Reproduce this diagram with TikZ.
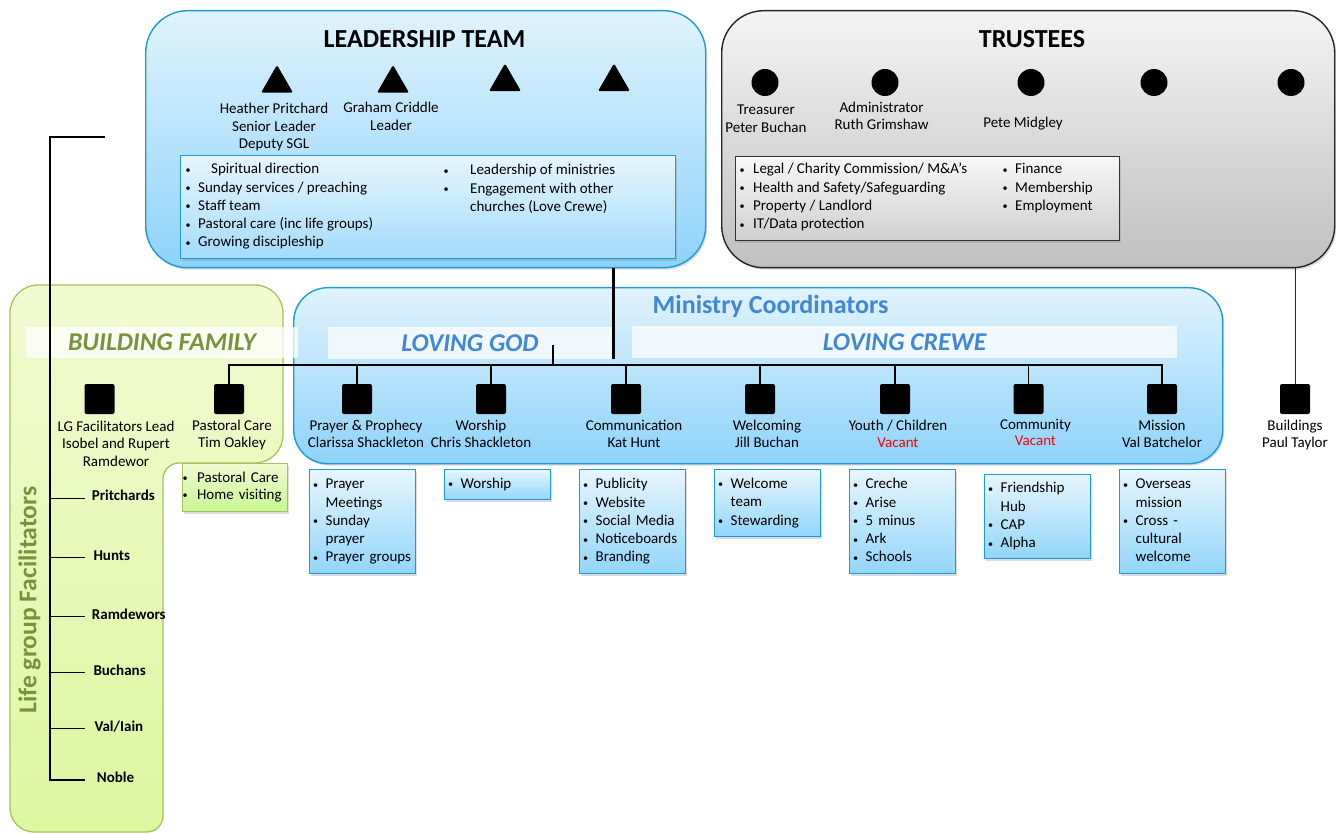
\documentclass[tikz,border=0pt]{standalone}
\usepackage{fontspec}
\usepackage{graphicx}
\setmainfont{Carlito}
\usetikzlibrary{shapes.geometric,shadows}
\definecolor{ltbd}{HTML}{1E9BD7}
\definecolor{blA}{HTML}{E0F3FD}
\definecolor{blB}{HTML}{8ED3FA}
\definecolor{sbA}{HTML}{E6F6FE}
\definecolor{sbB}{HTML}{92D5F9}
\definecolor{gyA}{HTML}{F4F4F4}
\definecolor{gyB}{HTML}{C0C0C0}
\definecolor{glA}{HTML}{F7F7F7}
\definecolor{glB}{HTML}{CFCFCF}
\definecolor{grA}{HTML}{F2FAD2}
\definecolor{grB}{HTML}{DDF7A0}
\definecolor{grbd}{HTML}{A4C35E}
\definecolor{grtx}{HTML}{77933C}
\definecolor{bltx}{HTML}{4287D6}
\definecolor{vac}{HTML}{FF0000}
\newcommand\ctab[1]{\begin{tabular}[t]{@{}c@{}}#1\end{tabular}}
\newcommand\ltab[1]{\begin{tabular}[t]{@{}l@{}}#1\end{tabular}}
\newcommand\bi[1][10pt]{\makebox[0pt][c]{\raisebox{0.6pt}{\scalebox{0.68}{\textbullet}}}\hspace*{#1}}
\newcommand\ci[1][10pt]{\hspace*{#1}}
\begin{document}
\begin{tikzpicture}[x=1pt,y=-1pt,
  shad/.style={drop shadow={opacity=0.28,shadow xshift=1.5pt,shadow yshift=-2pt}},
  bigblue/.style={draw=ltbd,line width=1.4pt,top color=blA,bottom color=blB,anchor=north west,inner sep=0pt,shad},
  graybox/.style={draw=black!85,line width=1.4pt,top color=gyA,bottom color=gyB,anchor=north west,inner sep=0pt,shad},
  listblue/.style={draw=ltbd,line width=1.3pt,top color=sbA,bottom color=sbB!85,anchor=north west,inner sep=0pt,shad},
  listgray/.style={draw=black!80,line width=1.2pt,top color=glA,bottom color=glB,anchor=north west,inner sep=0pt,shad},
  sub/.style={draw=ltbd,line width=1.3pt,top color=sbA,bottom color=sbB,anchor=north west,
    inner xsep=6pt,inner ysep=0pt,text width=94pt,minimum width=106pt,align=left,
    font=\fontsize{15}{18.3}\selectfont,shad},
  gsub/.style={draw=grbd,line width=1.3pt,top color=grA,bottom color=grB!90!green,anchor=north west,
    inner xsep=2.5pt,inner ysep=0pt,text width=100pt,minimum width=105pt,minimum height=48pt,align=left,
    font=\fontsize{15}{17}\selectfont,shad},
  txt/.style={inner sep=0pt,font=\fontsize{15}{18.3}\selectfont},
  lab/.style={inner sep=0pt,anchor=base,font=\fontsize{15}{17.7}\selectfont},
  labm/.style={inner sep=0pt,anchor=base,font=\fontsize{15}{16.8}\selectfont},
  ttl/.style={inner sep=0pt,anchor=base,font=\fontsize{26}{30}\selectfont\bfseries},
  strip/.style={fill=white,fill opacity=0.75,text opacity=1,inner sep=0pt,
    font=\fontsize{25.6}{30}\selectfont\bfseries\itshape},
  lgname/.style={inner sep=0pt,anchor=base west,font=\fontsize{15}{18}\selectfont\bfseries},
  tri/.style={regular polygon,regular polygon sides=3,fill=black,minimum size=37pt,inner sep=0pt,rounded corners=1.5pt},
  dot/.style={circle,fill=black,minimum size=27pt,inner sep=0pt},
  sq/.style={rectangle,fill=black,minimum size=30pt,inner sep=0pt,rounded corners=2pt},
  conn/.style={draw=black,line width=1.4pt},
  tick/.style={draw=black,line width=1.3pt}]
\useasboundingbox (0,0) rectangle (1336,834);

% ---------- Building family / life group green panel
\path[draw=grbd,line width=1.3pt,top color=grA,bottom color=grB,rounded corners=28pt]
  (10,560) -- (10,285) -- (283,285) -- (283,463) [rounded corners=16pt] -- (163,463)
  -- (163,832) [rounded corners=24pt] -- (10,832) -- cycle;

% ---------- big boxes
\node[bigblue,rounded corners=42pt,minimum width=560pt,minimum height=257pt] (lt) at (145,10) {};
\node[graybox,rounded corners=42pt,minimum width=613pt,minimum height=257pt] (tr) at (721,10) {};
\node[bigblue,rounded corners=34pt,minimum width=929pt,minimum height=176pt] (mc) at (293,287) {};

% ---------- Leadership team
\node[ttl] (ltt) at (424.5,47.5) {LEADERSHIP TEAM};
\node[tri] (t1) at (277,83.5) {};
\node[tri] (t2) at (393,83.5) {};
\node[tri] (t3) at (505,82) {};
\node[tri] (t4) at (614,82) {};
\node[lab] (hp) at (274,113.5) {\ctab{Heather Pritchard\\Senior Leader\\Deputy SGL}};
\node[lab] (gc) at (391,112.8) {\ctab{Graham Criddle\\Leader}};
\node[listblue,minimum width=495pt,minimum height=103pt] (ltl) at (180,155) {};
\node[txt,anchor=base west] (ltla) at (188,173.8)
  {\ltab{\bi[23pt]Spiritual direction\\\bi Sunday services / preaching\\\bi Staff team\\\bi Pastoral care (inc life groups)\\\bi Growing discipleship}};
\node[txt,anchor=base west] (ltlb) at (446,175)
  {\ltab{\bi[24pt]Leadership of ministries\\\bi[24pt]Engagement with other\\\ci[24pt]churches (Love Crewe)}};

% ---------- Trustees
\node[ttl] (trt) at (1032,47.5) {TRUSTEES};
\node[dot] (c1) at (765,82.5) {};
\node[dot] (c2) at (885,82.5) {};
\node[dot] (c3) at (1031,82.5) {};
\node[dot] (c4) at (1154,82.5) {};
\node[dot] (c5) at (1291,82.5) {};
\node[lab] (pb) at (766,114.5) {\ctab{Treasurer\\Peter Buchan}};
\node[lab] (rg) at (881.5,112.2) {\ctab{Administrator\\Ruth Grimshaw}};
\node[lab] (pm) at (1023,127.2) {Pete Midgley};
\node[listgray,minimum width=384pt,minimum height=84pt] (trl) at (735,156) {};
\node[txt,anchor=base west] (trla) at (742,173.8)
  {\ltab{\bi[11pt]Legal / Charity Commission/ M\&A’s\\\bi[11pt]Health and Safety/Safeguarding\\\bi[11pt]Property / Landlord\\\bi[11pt]IT/Data protection}};
\node[txt,anchor=base west] (trlb) at (1005,173.8)
  {\ltab{\bi Finance\\\bi Membership\\\bi Employment}};

% ---------- Ministry coordinators headings
\node[inner sep=0pt,anchor=base,text=bltx,font=\fontsize{26}{30}\selectfont\bfseries] (mct) at (770.5,314) {Ministry Coordinators};
\node[strip,text=grtx,minimum width=272pt,minimum height=31pt] (bf) at (162,342.3) {BUILDING FAMILY};
\node[strip,text=bltx,minimum width=284pt,minimum height=32pt] (lg) at (470,343) {LOVING GOD};
\node[strip,text=bltx,minimum width=545pt,minimum height=31pt] (lc) at (904.5,342) {LOVING CREWE};

% ---------- squares
\node[sq] (b1) at (99.5,399) {};
\node[sq] (b2) at (229,399) {};
\node[sq] (m1) at (357,399) {};
\node[sq] (m2) at (491,399) {};
\node[sq] (m3) at (626,399) {};
\node[sq] (m4) at (760,399) {};
\node[sq] (m5) at (895,399) {};
\node[sq] (m6) at (1028.5,399) {};
\node[sq] (m7) at (1162,399) {};
\node[sq] (bd) at (1295,399) {};

% ---------- square labels
\node[lab] (b1l) at (116,431) {\ctab{LG Facilitators Lead\\Isobel and Rupert\\Ramdewor}};
\node[labm] (b2l) at (232,430.2) {\ctab{Pastoral Care\\Tim Oakley}};
\node[labm] (m1l) at (366,430.2) {\ctab{Prayer \& Prophecy\\Clarissa Shackleton}};
\node[labm] (m2l) at (481,430.2) {\ctab{Worship\\Chris Shackleton}};
\node[labm] (m3l) at (634,430.2) {\ctab{Communication\\Kat Hunt}};
\node[labm] (m4l) at (767,430.2) {\ctab{Welcoming\\Jill Buchan}};
\node[labm] (m5l) at (898,430.2) {\ctab{Youth / Children\\\textcolor{vac}{Vacant}}};
\node[labm] (m6l) at (1035.5,429) {\ctab{Community\\\textcolor{vac}{Vacant}}};
\node[labm] (m7l) at (1162,430.2) {\ctab{Mission\\Val Batchelor}};
\node[labm] (bdl) at (1295,430.2) {\ctab{Buildings\\Paul Taylor}};

% ---------- connectors
\coordinate (bus) at (0,365);
\coordinate (ltj) at (613,359);
\coordinate (lgt) at (553,345);
\draw[line width=3pt] (lt.south -| ltj) -- (ltj);
\draw[conn] (b2.north) -- (b2.north |- bus) -- (m7.north |- bus) -- (m7.north);
\foreach \n in {m1,m2,m3,m4,m5,m6} \draw[conn] (\n.north) -- (\n.north |- bus);
\draw[conn] (lgt) -- (lgt |- bus);
\draw[draw=black!85,line width=1pt] (tr.south -| bd) -- (bd.north);

% ---------- sub boxes
\node[gsub] (pcl) at (182,463) {\ltab{\bi[12pt]Pastoral Care\\\bi[12pt]Home visiting}};
\node[sub,minimum height=104pt] (s1) at (309,469) {\ltab{\bi Prayer\\\ci Meetings\\\bi Sunday\\\ci prayer\\\bi Prayer groups}};
\node[sub,minimum height=30pt] (s2) at (444,469) {\ltab{\bi Worship}};
\node[sub,minimum height=104pt] (s3) at (579,469) {\ltab{\bi Publicity\\\bi Website\\\bi Social Media\\\bi Noticeboards\\\bi Branding}};
\node[sub,minimum height=67pt] (s4) at (714,469) {\ltab{\bi Welcome\\\ci team\\\bi Stewarding}};
\node[sub,minimum height=104pt] (s5) at (849,469) {\ltab{\bi Creche\\\bi Arise\\\bi 5 minus\\\bi Ark\\\bi Schools}};
\node[sub,minimum height=84pt] (s6) at (984,474) {\ltab{\bi Friendship\\\ci Hub\\\bi CAP\\\bi Alpha}};
\node[sub,minimum height=104pt] (s7) at (1119,469) {\ltab{\bi Overseas\\\ci mission\\\bi Cross -\\\ci cultural\\\ci welcome}};

% ---------- Life group facilitators
\node[inner sep=0pt,rotate=90,text=grtx,font=\fontsize{25.6}{30}\selectfont\bfseries] (lgf) at (29.5,600) {Life group Facilitators};
\node[lgname] (lp) at (91.7,500.7) {Pritchards};
\node[lgname] (lh) at (93.3,560) {Hunts};
\node[lgname] (lr) at (91.7,619) {Ramdewors};
\node[lgname] (lb) at (93.3,675) {Buchans};
\node[lgname] (lv) at (94.3,731) {Val/Iain};
\node[lgname] (ln) at (96.7,782.5) {Noble};
\coordinate (lgs) at (105,137);
\coordinate (lgx) at (50,137);
\coordinate (tke) at (85,0);
\draw[line width=1.8pt] (lgs) -- (lgx) -- (lgx |- ln.mid west) -- (tke |- ln.mid west);
\foreach \n in {lp,lh,lr,lb,lv} \draw[tick] (lgx |- \n.mid west) -- (tke |- \n.mid west);
\end{tikzpicture}
\end{document}
